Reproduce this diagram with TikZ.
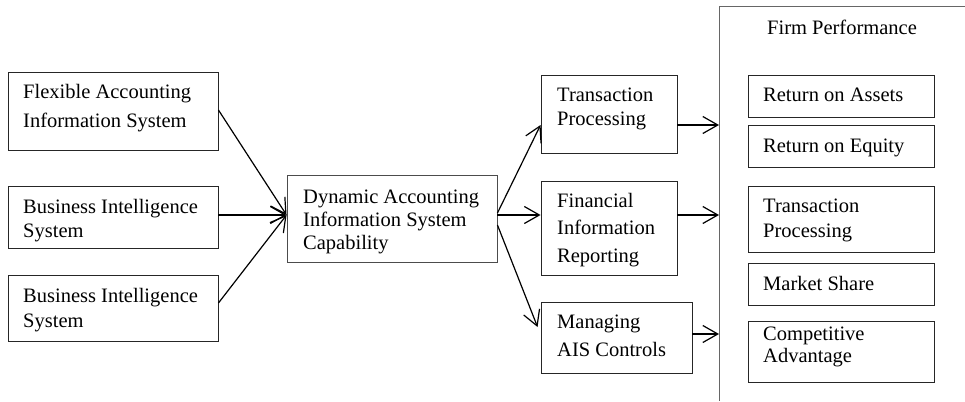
\documentclass[tikz,border=0pt]{standalone}
\usepackage{fontspec}
\setmainfont{Liberation Serif}
\newfontfamily\tnr{Liberation Serif}
\usetikzlibrary{arrows.meta}
\begin{document}
\begin{tikzpicture}[x=1pt,y=-1pt,
  box/.style={draw=black!85,line width=0.9pt,inner sep=0pt,rectangle},
  txt/.style={anchor=base west,inner sep=0pt,font=\tnr\fontsize{20.5}{24}\selectfont},
  arr/.style={line width=1.2pt,-{Straight Barb[length=15pt,width=17pt,line width=1.2pt]}},
  frame/.style={draw=black!60,line width=1pt}]
\useasboundingbox (0,0) rectangle (965,401);
% left boxes
\node[box,minimum width=210pt,minimum height=78pt] (b1) at (113,111) {};
\node[box,minimum width=210pt,minimum height=62pt] (b2) at (113,217) {};
\node[box,minimum width=210pt,minimum height=66pt] (b3) at (113,308) {};
\node[txt] (t1a) at (23,99) {Flexible Accounting};
\node[txt] (t1b) at (23,127) {Information System};
\node[txt] (t2a) at (23,213) {Business Intelligence};
\node[txt] (t2b) at (23,237) {System};
\node[txt] (t3a) at (23,302) {Business Intelligence};
\node[txt] (t3b) at (23,327) {System};
% centre box
\node[box,draw=black!70,minimum width=210pt,minimum height=87pt] (c) at (392,218.5) {};
\node[txt] (tca) at (303,203) {Dynamic Accounting};
\node[txt] (tcb) at (303,226) {Information System};
\node[txt] (tcc) at (303,249) {Capability};
% middle boxes
\node[box,minimum width=136pt,minimum height=78pt] (tp) at (609,114) {};
\node[box,minimum width=136pt,minimum height=94pt] (fir) at (609,228) {};
\node[box,minimum width=151pt,minimum height=71pt] (mac) at (616.5,337.5) {};
\node[txt] (ttpa) at (557,102) {Transaction};
\node[txt] (ttpb) at (557,125) {Processing};
\node[txt] (tfa) at (557,207) {Financial};
\node[txt] (tfb) at (557,234) {Information};
\node[txt] (tfc) at (557,262) {Reporting};
\node[txt] (tma) at (557,328) {Managing};
\node[txt] (tmb) at (557,356) {AIS Controls};
% firm performance frame
\coordinate (fpt) at (719,7);
\draw[frame] (965,7) -- (fpt) -- (719,401);
\node[txt,anchor=base] (fp) at (842,35) {Firm Performance};
\node[box,minimum width=186pt,minimum height=42pt] (ra) at (841,96) {};
\node[box,minimum width=186pt,minimum height=42pt] (re) at (841,146) {};
\node[box,minimum width=186pt,minimum height=66pt] (rtp) at (841,219) {};
\node[box,minimum width=186pt,minimum height=42pt] (ms) at (841,284) {};
\node[box,minimum width=186pt,minimum height=61pt] (ca) at (841,351.5) {};
\node[txt] (tra) at (763,102) {Return on Assets};
\node[txt] (tre) at (763,152) {Return on Equity};
\node[txt] (trta) at (763,212) {Transaction};
\node[txt] (trtb) at (763,237) {Processing};
\node[txt] (tms) at (763,290) {Market Share};
\node[txt] (tcaa) at (763,340) {Competitive};
\node[txt] (tcab) at (763,362) {Advantage};
% connectors
\draw[arr] ([yshift=1pt]b1.east) -- ([yshift=3.5pt]c.west);
\draw[arr] ([yshift=2pt]b2.east) -- ([yshift=3.5pt]c.west);
\draw[arr] ([yshift=5pt]b3.east) -- ([yshift=3.5pt]c.west);
\draw[arr] ([yshift=5.5pt]c.east) -- ([yshift=-11pt]tp.west);
\draw[arr] ([yshift=3.5pt]c.east) -- ([yshift=13pt]fir.west);
\draw[arr] ([yshift=-6.5pt]c.east) -- ([xshift=-3pt,yshift=10.5pt]mac.west);
\draw[arr] ([yshift=-11pt]tp.east) -- ([yshift=-11pt]tp.east -| fpt);
\draw[arr] ([yshift=13pt]fir.east) -- ([yshift=13pt]fir.east -| fpt);
\draw[arr] ([yshift=3.5pt]mac.east) -- ([yshift=3.5pt]mac.east -| fpt);
\end{tikzpicture}
\end{document}
